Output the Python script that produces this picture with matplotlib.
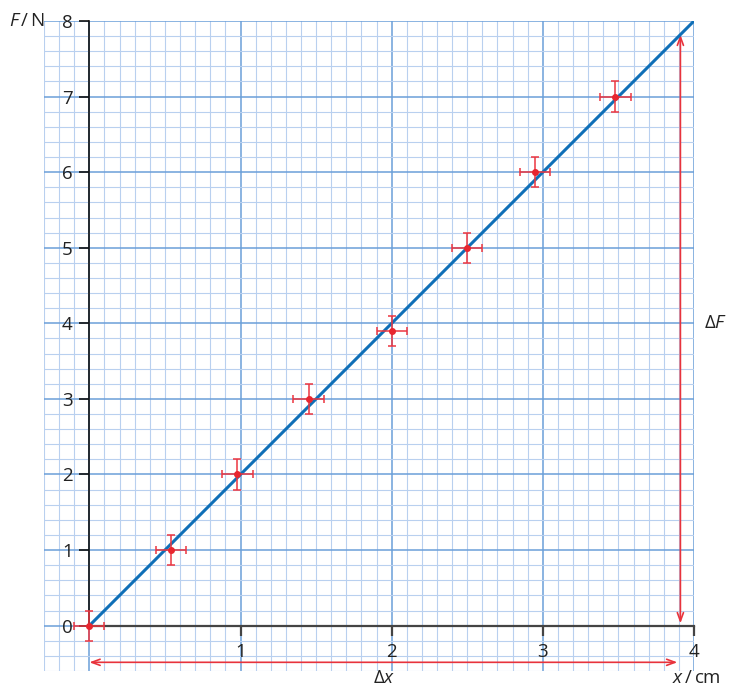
import numpy as np
import matplotlib
matplotlib.use("Agg")
import matplotlib.pyplot as plt

plt.rcParams['font.family'] = ['Open Sans', 'DejaVu Sans']
plt.rcParams['mathtext.fontset'] = 'custom'
plt.rcParams['mathtext.rm'] = 'Open Sans'
plt.rcParams['mathtext.it'] = 'Open Sans:italic'

# Measured extension x (cm) and force F (N)
extension_cm = [0.0, 0.54, 0.98, 1.45, 2.0, 2.5, 2.95, 3.48]
force_N = [0.0, 1.0, 2.0, 3.0, 3.9, 5.0, 6.0, 7.0]
x_err = 0.1
f_err = 0.2

# Best-fit line end points
fit_x = [0.0, 4.0]
fit_f = [0.0, 8.0]

x_ticks = [1, 2, 3, 4]
y_ticks = [0, 1, 2, 3, 4, 5, 6, 7, 8]

# Triangle used for the gradient
tri_x = 3.91
tri_y = -0.485

RED = '#e8262f'
BLUE = '#0f6fb7'
GRID_MINOR = '#b9d0ef'
GRID_MAJOR = '#6b9fd9'
FS = 13.5

fig = plt.figure(figsize=(7.29, 6.87), dpi=100)
ax = fig.add_axes([44 / 729, 1 - 671 / 687, 650 / 729, 650 / 687])
ax.set_xlim(-0.3, 4.0)
ax.set_ylim(-0.6, 8.0)

# Graph-paper grid
for gx in np.round(np.arange(-0.3, 4.001, 0.1), 2):
    major = abs(gx - round(gx)) < 1e-6
    ax.axvline(gx, color=GRID_MAJOR if major else GRID_MINOR,
               lw=1.1 if major else 0.8, zorder=0)
for gy in np.round(np.arange(-0.6, 8.001, 0.2), 2):
    major = abs(gy - round(gy)) < 1e-6
    ax.axhline(gy, color=GRID_MAJOR if major else GRID_MINOR,
               lw=1.1 if major else 0.8, zorder=0)

# Axes through the origin
for s in ['top', 'right']:
    ax.spines[s].set_visible(False)
ax.spines['left'].set_position(('data', 0))
ax.spines['left'].set_bounds(0, 8)
ax.spines['left'].set_color('#111111')
ax.spines['left'].set_linewidth(1.2)
ax.spines['left'].set_zorder(2)
ax.spines['bottom'].set_position(('data', 0))
ax.spines['bottom'].set_bounds(0, 4)
ax.spines['bottom'].set_color('#444444')
ax.spines['bottom'].set_linewidth(1.6)
ax.spines['bottom'].set_zorder(2)

ax.set_xticks(x_ticks)
ax.set_yticks(y_ticks)
ax.tick_params(axis='y', direction='out', length=7, width=1.2,
               color='#111111', pad=5, labelsize=FS, labelcolor='#222222')
ax.tick_params(axis='x', direction='out', length=7, width=1.6,
               color='#444444', pad=5.5, labelsize=FS, labelcolor='#222222')
ax.patch.set_alpha(0)

# Best-fit line
ax.plot(fit_x, fit_f, color=BLUE, lw=2.2, zorder=4, solid_capstyle='butt')

# Data with error bars
ax.errorbar(extension_cm, force_N, xerr=x_err, yerr=f_err, fmt='o',
            color=RED, ecolor='#ec3640', elinewidth=1.1, capsize=2.6,
            capthick=1.1, markersize=4, zorder=5, clip_on=False)

# Gradient triangle arrows
ax.annotate('', xy=(tri_x, 7.82), xytext=(tri_x, 0.03),
            arrowprops=dict(arrowstyle='<->,head_length=0.6,head_width=0.22',
                            color='#e8333c', lw=1.2, shrinkA=0, shrinkB=0),
            zorder=3)
ax.annotate('', xy=(3.89, tri_y), xytext=(0.0, tri_y),
            arrowprops=dict(arrowstyle='<->,head_length=0.6,head_width=0.22',
                            color='#e8333c', lw=1.2, shrinkA=0, shrinkB=0),
            zorder=3)

ax.text(4.14, 4.0, r'$\Delta F$', ha='center', va='center', fontsize=FS,
        color='#222222', clip_on=False)
ax.text(1.95, -0.69, r'$\Delta x$', ha='center', va='center', fontsize=FS,
        color='#222222', clip_on=False)

# Axis titles
ax.text(-0.295, 8.0, r'$F\,/\,$N', ha='right', va='center', fontsize=FS,
        color='#222222', clip_on=False)
ax.text(4.18, -0.69, r'$x\,/\,$cm', ha='right', va='center', fontsize=FS,
        color='#222222', clip_on=False)

fig.savefig('out.png', dpi=100)
